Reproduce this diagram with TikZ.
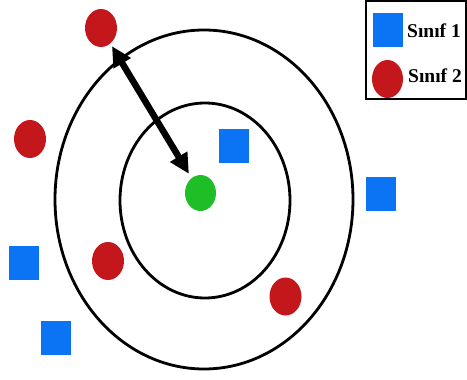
\documentclass[tikz,border=0pt]{standalone}
\usepackage{fontspec}
\setmainfont{Liberation Serif}
\usetikzlibrary{shapes.geometric,arrows.meta}
\definecolor{clsblue}{HTML}{0A74F5}
\definecolor{clsred}{HTML}{C3171C}
\definecolor{qgreen}{HTML}{1EBE27}
\tikzset{
  ring/.style={draw=black,line width=2.8pt,ellipse,inner sep=0pt},
  sq/.style={fill=clsblue,rectangle,inner sep=0pt,minimum width=30pt,minimum height=34pt},
  dot/.style={fill=clsred,ellipse,inner sep=0pt,minimum width=32pt,minimum height=38pt},
  query/.style={fill=qgreen,ellipse,inner sep=0pt,minimum width=31pt,minimum height=36pt},
  lbl/.style={font=\bfseries\fontsize{19.5}{19.5}\selectfont,anchor=west,inner sep=0pt},
  dist/.style={line width=6.5pt,{Triangle[length=20pt,width=19pt]}-{Triangle[length=20pt,width=19pt]}}
}
\begin{document}
\begin{tikzpicture}[x=1pt,y=-1pt]
  \useasboundingbox (0,0) rectangle (467,380);
  % neighbourhood rings
  \node[ring,minimum width=170pt,minimum height=195pt] (inner) at (205,200.5) {};
  \node[ring,minimum width=298pt,minimum height=339pt] (outer) at (204,199.5) {};
  % samples
  \node[query] (g) at (200.5,193) {};
  \node[dot] (r1) at (101,28) {};
  \node[dot] (r2) at (30,139) {};
  \node[dot] (r3) at (108,261) {};
  \node[dot] (r4) at (285.5,296.5) {};
  \node[sq] (b1) at (234,146) {};
  \node[sq] (b2) at (381,194) {};
  \node[sq] (b3) at (24,263) {};
  \node[sq] (b4) at (55.5,338) {};
  % distance arrow
  \draw[dist,shorten <=3pt,shorten >=5pt] (r1) -- (g);
  % legend
  \node[draw=black,line width=1.2pt,rectangle,inner sep=0pt,minimum width=100pt,minimum height=98pt] (leg) at (416,50) {};
  \node[sq,minimum width=30pt,minimum height=34pt] (lb) at (388,30) {};
  \node[dot,minimum width=31pt,minimum height=38pt] (lr) at (387.5,79) {};
  \node[lbl] (t1) at (407,31) {Sınıf 1};
  \node[lbl] (t2) at (408,76) {Sınıf 2};
\end{tikzpicture}
\end{document}
